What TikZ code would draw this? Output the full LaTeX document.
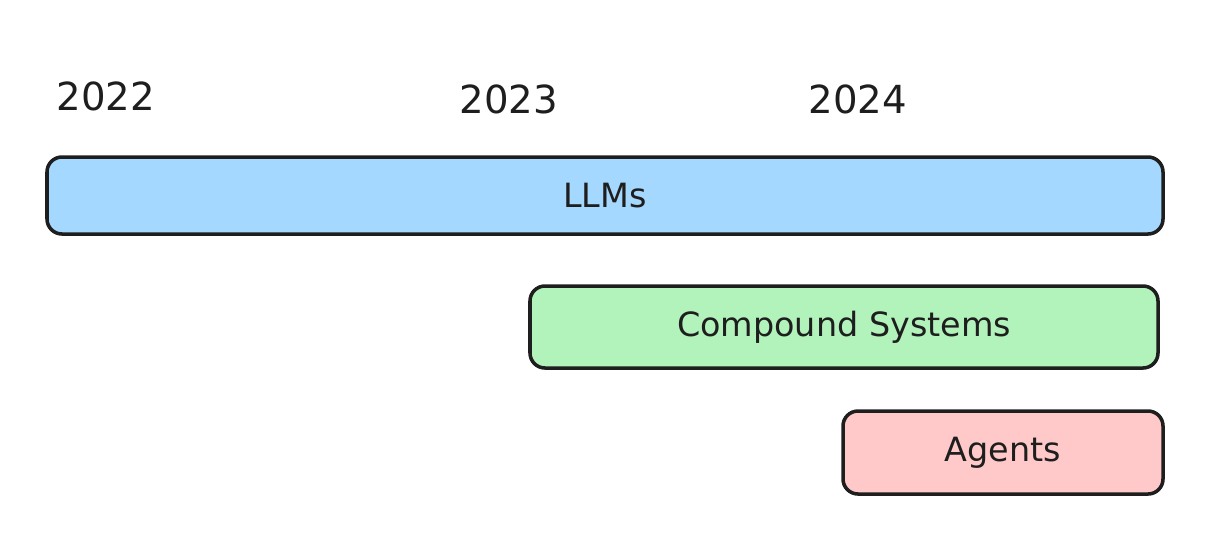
\documentclass[tikz,border=0pt]{standalone}
\usepackage{fontspec}
\setmainfont{DejaVu Sans}
\definecolor{llmblue}{HTML}{A5D8FF}
\definecolor{compgreen}{HTML}{B2F2BB}
\definecolor{agentpink}{HTML}{FFC9C9}
\definecolor{ink}{HTML}{1E1E1E}
\tikzset{
  bar/.style={draw=ink, line width=2pt, rounded corners=0.3cm,
    font=\fontsize{19}{22}\selectfont, text=ink},
  year/.style={font=\fontsize{22}{26}\selectfont, text=ink}
}
\begin{document}
\begin{tikzpicture}
      \useasboundingbox (0,0) rectangle (24.36,-10.84);
      \draw
        (2.12,-1.92) node[year] (y2022){2022}
        (10.18,-1.98) node[year] (y2023){2023}
        (17.16,-1.98) node[year] (y2024){2024};
      \begin{scope}[bar]
        \node[bar, fill=llmblue, minimum width=22.32cm, minimum height=1.54cm]
          (llms) at (12.1,-3.91) {LLMs};
        \node[bar, fill=compgreen, minimum width=12.56cm, minimum height=1.64cm]
          (compound) at (16.88,-6.54) {Compound Systems};
        \node[bar, fill=agentpink, minimum width=6.4cm, minimum height=1.66cm]
          (agents) at (20.06,-9.05) {Agents};
      \end{scope}
    \end{tikzpicture}
\end{document}
